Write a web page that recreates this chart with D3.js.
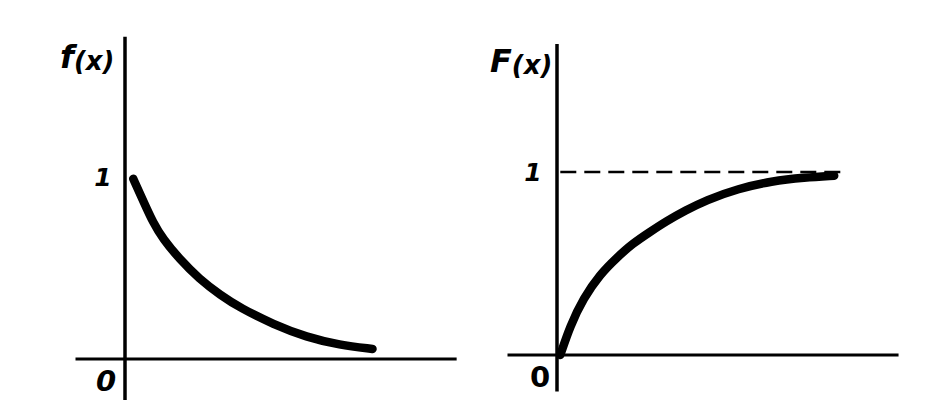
<!DOCTYPE html>
<html>
<head>
<meta charset="utf-8">
<script src="https://cdn.jsdelivr.net/npm/d3@7"></script>
<style>
  html, body { margin: 0; padding: 0; background: #fff; }
  svg { display: block; }
  text { font-family: "DejaVu Sans", sans-serif; font-weight: bold; fill: #000; }
</style>
</head>
<body>
<svg id="chart" width="944" height="420"></svg>
<script>
// Density f(x)
const fX = [0.25, 0.55, 0.85, 1.15, 1.65, 2.25, 2.9, 3.5, 4.5, 5.5, 6.5, 7.5];
const fY = [0.99, 0.87, 0.75, 0.66, 0.55, 0.44, 0.35, 0.28, 0.19, 0.12, 0.077, 0.055];
// Distribution F(x)
const FX = [0.1, 0.4, 0.8, 1.3, 1.8, 2.3, 2.8, 3.3, 3.9, 4.5, 5.5, 6.5, 7.5, 8.4];
const FY = [0.0, 0.16, 0.31, 0.44, 0.53, 0.61, 0.67, 0.73, 0.79, 0.845, 0.91, 0.95, 0.97, 0.98];
// Tick labels
const tickLabels = ["0", "1"];
const tickValues = [0, 1];
const panelTitles = [["f", "(x)"], ["F", "(x)"]];

const svg = d3.select("#chart");

const panels = [
  { xs: fX, ys: fY, title: panelTitles[0],
    x: d3.scaleLinear().domain([0, 10]).range([125, 455]),
    y: d3.scaleLinear().domain([0, 1]).range([359, 177]),
    xExt: [-1.5, 10.05], yExt: [-0.225, 1.77], dashed: false,
    titlePos: [60, 68], zeroDx: -19, oneDx: -22, zeroStyle: "italic" },
  { xs: FX, ys: FY, title: panelTitles[1],
    x: d3.scaleLinear().domain([0, 10]).range([557, 887]),
    y: d3.scaleLinear().domain([0, 1]).range([355, 172]),
    xExt: [-1.5, 10.35], yExt: [-0.2, 1.7], dashed: true,
    titlePos: [490, 72], zeroDx: -17, oneDx: -24, zeroStyle: "normal" }
];

panels.forEach(p => {
  const g = svg.append("g");
  // x axis
  g.append("line")
    .attr("x1", p.x(p.xExt[0])).attr("x2", p.x(p.xExt[1]))
    .attr("y1", p.y(0)).attr("y2", p.y(0))
    .attr("stroke", "#000").attr("stroke-width", 3);
  // y axis
  g.append("line")
    .attr("x1", p.x(0)).attr("x2", p.x(0))
    .attr("y1", p.y(p.yExt[0])).attr("y2", p.y(p.yExt[1]))
    .attr("stroke", "#000").attr("stroke-width", 3.5);
  // asymptote
  if (p.dashed) {
    g.append("line")
      .attr("x1", p.x(0.1)).attr("x2", p.x(8.8))
      .attr("y1", p.y(1)).attr("y2", p.y(1))
      .attr("stroke", "#000").attr("stroke-width", 2.5)
      .attr("stroke-dasharray", "16 8");
  }
  // curve
  const data = p.xs.map((v, i) => [v, p.ys[i]]);
  g.append("path")
    .datum(data)
    .attr("d", d3.line().x(d => p.x(d[0])).y(d => p.y(d[1])).curve(d3.curveBasis))
    .attr("fill", "none").attr("stroke", "#000")
    .attr("stroke-width", 8.5).attr("stroke-linecap", "round");
  // tick labels
  g.append("text")
    .attr("x", p.x(0) + p.zeroDx).attr("y", p.y(0) + 32)
    .attr("text-anchor", "middle").attr("font-size", 29)
    .attr("font-style", p.zeroStyle)
    .text(tickLabels[0]);
  g.append("text")
    .attr("x", p.x(0) + p.oneDx).attr("y", p.y(tickValues[1]) + 9)
    .attr("text-anchor", "middle").attr("font-size", 25)
    .attr("font-style", "italic")
    .text(tickLabels[1]);
  // title
  const t = g.append("text")
    .attr("x", p.titlePos[0]).attr("y", p.titlePos[1])
    .attr("font-style", "italic");
  t.append("tspan").attr("font-size", 32).text(p.title[0]);
  t.append("tspan").attr("font-size", 26).attr("dy", 2).text(p.title[1]);
});
</script>
</body>
</html>
